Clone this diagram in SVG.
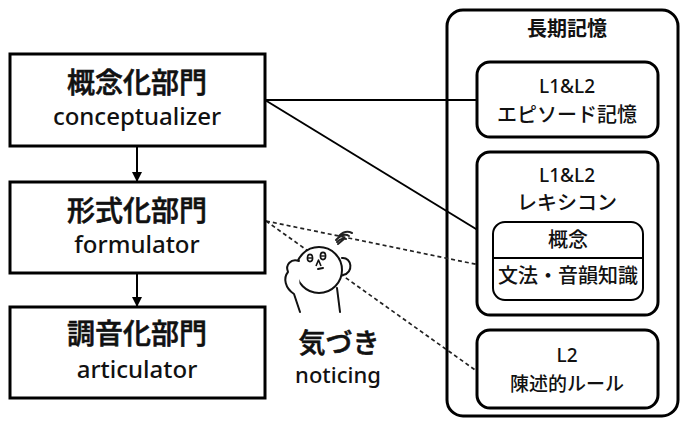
<svg xmlns="http://www.w3.org/2000/svg" width="684" height="421" viewBox="0 0 684 421">
  <style>
    .box { fill: #fff; stroke: #000; stroke-width: 3; }
    .rbox { fill: #fff; stroke: #000; stroke-width: 3; }
    .inner { fill: #fff; stroke: #000; stroke-width: 2; }
    .jp { font-family: "Noto Sans CJK JP", sans-serif; fill: #111; text-anchor: middle; font-weight: 500; }
    .heavy { stroke: #111; stroke-width: 0.6; }
    .title { font-weight: bold; }
    .lat { font-family: "Noto Sans", "Noto Sans CJK JP", sans-serif; fill: #111; text-anchor: middle; font-weight: 500; }
    .solid { stroke: #000; stroke-width: 2; fill: none; }
    .dash { stroke: #222; stroke-width: 1.7; stroke-dasharray: 4 3; fill: none; }
    .fig { stroke: #111; stroke-width: 2; fill: #fff; stroke-linecap: round; stroke-linejoin: round; }
  </style>
  <defs>
    <marker id="arrow" viewBox="0 0 10 10" refX="10" refY="5" markerWidth="5.2" markerHeight="5.2" orient="auto" markerUnits="strokeWidth">
      <path d="M0,0 L10,5 L0,10 z" fill="#000"/>
    </marker>
  </defs>

  <!-- long-term memory container -->
  <g id="ltm">
    <rect class="rbox" x="447" y="10" width="231" height="406" rx="16"/>
    <text class="jp title" x="567" y="36" font-size="20">長期記憶</text>
  </g>

  <!-- connectors -->
  <g id="connectors">
    <line class="solid" x1="265" y1="100" x2="478" y2="100"/>
    <line class="solid" x1="265" y1="100" x2="494" y2="240"/>
    <line class="solid" x1="137" y1="146" x2="137" y2="182" stroke-width="2.5" marker-end="url(#arrow)"/>
    <line class="solid" x1="137" y1="273" x2="137" y2="307" stroke-width="2.5" marker-end="url(#arrow)"/>
    <line class="dash" x1="266" y1="221" x2="494" y2="268"/>
    <line class="dash" x1="266" y1="221" x2="478" y2="372"/>
  </g>

  <!-- processing components -->
  <g id="conceptualizer">
    <rect class="box" x="10" y="54" width="255" height="92"/>
    <text class="jp heavy" x="137" y="93" font-size="28">概念化部門</text>
    <text class="lat" x="137" y="125" font-size="24">conceptualizer</text>
  </g>
  <g id="formulator">
    <rect class="box" x="10" y="182" width="255" height="91"/>
    <text class="jp heavy" x="137" y="221" font-size="28">形式化部門</text>
    <text class="lat" x="137" y="253" font-size="24">formulator</text>
  </g>
  <g id="articulator">
    <rect class="box" x="10" y="307" width="255" height="91"/>
    <text class="jp heavy" x="137" y="344" font-size="28">調音化部門</text>
    <text class="lat" x="137" y="378" font-size="24">articulator</text>
  </g>

  <!-- memory stores -->
  <g id="episodic">
    <rect class="rbox" x="477" y="62" width="181" height="75" rx="13"/>
    <text class="lat" x="567" y="93" font-size="19">L1&amp;L2</text>
    <text class="jp" x="567" y="122" font-size="20">エピソード記憶</text>
  </g>
  <g id="lexicon">
    <rect class="rbox" x="477" y="152" width="181" height="163" rx="13"/>
    <text class="lat" x="567" y="182" font-size="19">L1&amp;L2</text>
    <text class="jp" x="567" y="210" font-size="20">レキシコン</text>
  </g>
  <g id="lemma">
    <rect class="inner" x="493" y="222" width="150" height="78" rx="12"/>
    <line x1="493" y1="258" x2="643" y2="258" stroke="#000" stroke-width="2"/>
    <text class="jp" x="568" y="247" font-size="20">概念</text>
    <text class="jp" x="568" y="283" font-size="20">文法・音韻知識</text>
  </g>
  <g id="declarative">
    <rect class="rbox" x="477" y="330" width="181" height="78" rx="13"/>
    <text class="lat" x="567" y="362" font-size="19">L2</text>
    <text class="jp" x="567" y="391" font-size="19">陳述的ルール</text>
  </g>

  <!-- thinking figure -->
  <g id="noticing-figure">
    <path class="fig" d="M337,288 L340,312"/>
    <path class="fig" d="M342,258 C352,257 354,273 343,275"/>
    <circle class="fig" cx="319" cy="270" r="23"/>
    <path class="fig" d="M299,261 C291,258 285,265 288,272 C283,278 285,288 294,294 L300,312"/>
    <ellipse cx="310" cy="258" rx="2.6" ry="3.6" fill="none" stroke="#111" stroke-width="1.6"/>
    <line x1="307.5" y1="258" x2="312.5" y2="258" stroke="#111" stroke-width="1.4"/>
    <ellipse cx="323" cy="256" rx="2.6" ry="3.6" fill="none" stroke="#111" stroke-width="1.6"/>
    <line x1="320.5" y1="256" x2="325.5" y2="256" stroke="#111" stroke-width="1.4"/>
    <path d="M316,266 L318.5,260 L321,266" fill="none" stroke="#111" stroke-width="1.6" stroke-linejoin="round"/>
    <line x1="318" y1="269" x2="323" y2="268" stroke="#111" stroke-width="2" stroke-linecap="round"/>
    <path d="M339,236 C343,232 348,231 352,233 M336,240 C341,235 346,234 349,236 M337,242 C341,238 345,238 346,239 M338,244 L344,239" fill="none" stroke="#222" stroke-width="2" stroke-linecap="round"/>
  </g>

  <g id="noticing-label">
    <text class="jp heavy" x="339" y="353" font-size="27">気づき</text>
    <text class="lat" x="338" y="383" font-size="22">noticing</text>
  </g>
</svg>
